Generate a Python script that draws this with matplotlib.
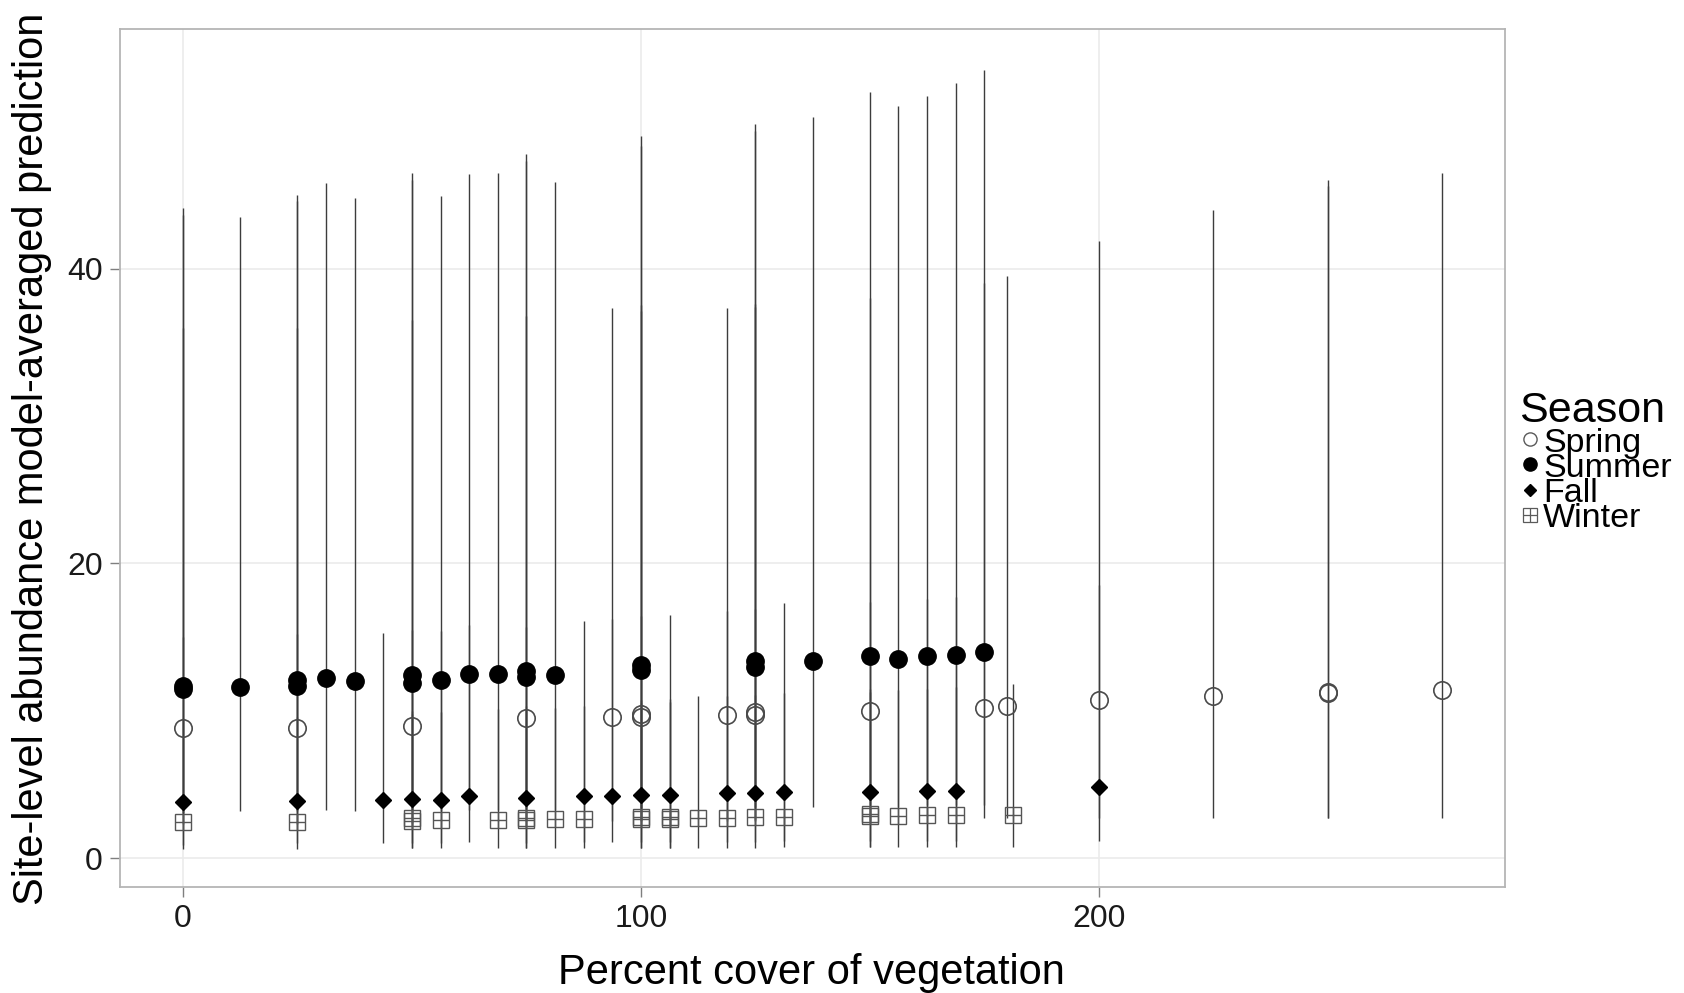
import matplotlib
matplotlib.use("Agg")
import matplotlib.pyplot as plt
from matplotlib.lines import Line2D

plt.rcParams["font.family"] = ["Liberation Sans", "DejaVu Sans"]

# ---- model-averaged predictions per site (x = percent cover) ---- #
spring_x = [0, 25, 50, 75, 93.75, 100, 100, 118.75, 125, 125, 150, 175, 180, 200, 225, 250, 250, 275]
spring_y = [8.85, 8.85, 9.0, 9.5, 9.6, 9.6, 9.8, 9.7, 9.7, 9.9, 10.0, 10.2, 10.3, 10.7, 11.0, 11.2, 11.25, 11.4]
spring_lo = [2.3, 2.3, 2.4, 2.5, 2.5, 2.5, 2.6, 2.5, 2.5, 2.6, 2.6, 2.7, 2.7, 2.7, 2.7, 2.7, 2.7, 2.7]
spring_hi = [36.0, 36.0, 36.5, 36.8, 37.3, 37.1, 37.5, 37.3, 37.4, 37.6, 38.0, 39.0, 39.5, 41.9, 44.0, 46.0, 45.6, 46.5]

summer_x = [0, 0, 12.5, 25, 25, 31.25, 37.5, 50, 50, 56.25, 62.5, 68.75, 75, 75, 81.25,
            100, 100, 125, 125, 137.5, 150, 156.25, 162.5, 168.75, 175]
summer_y = [11.5, 11.7, 11.6, 11.7, 12.1, 12.2, 12.0, 11.9, 12.4, 12.1, 12.5, 12.5, 12.3, 12.7, 12.4,
            12.8, 13.1, 13.0, 13.4, 13.4, 13.7, 13.5, 13.7, 13.8, 14.0]
summer_lo = [3.1, 3.1, 3.2, 3.2, 3.3, 3.3, 3.2, 3.2, 3.3, 3.2, 3.3, 3.3, 3.3, 3.4, 3.3,
             3.4, 3.4, 3.4, 3.5, 3.5, 3.6, 3.5, 3.6, 3.6, 3.6]
summer_hi = [44.1, 43.6, 43.5, 45.0, 44.6, 45.8, 44.8, 46.5, 46.0, 44.9, 46.4, 46.5, 47.8, 47.3, 45.9,
             49.0, 48.3, 49.8, 49.3, 50.3, 52.0, 51.0, 51.7, 52.6, 53.5]

fall_x = [0, 25, 43.75, 50, 56.25, 62.5, 75, 87.5, 93.75, 100, 106.25, 118.75, 125, 131.25, 150, 162.5, 168.75, 200]
fall_y = [3.8, 3.9, 3.95, 4.0, 3.95, 4.2, 4.1, 4.2, 4.2, 4.3, 4.3, 4.4, 4.4, 4.47, 4.47, 4.56, 4.56, 4.8]
fall_lo = [0.9, 1.0, 1.0, 1.0, 1.0, 1.1, 1.0, 1.1, 1.1, 1.1, 1.1, 1.1, 1.1, 1.2, 1.2, 1.2, 1.2, 1.2]
fall_hi = [15.0, 15.2, 15.3, 15.5, 15.4, 15.8, 15.7, 16.1, 16.2, 16.4, 16.5, 16.8, 16.9, 17.3, 17.4, 17.6, 17.7, 18.5]

winter_x = [0, 25, 50, 50, 56.25, 68.75, 75, 75, 81.25, 87.5, 100, 100, 106.25, 106.25,
            112.5, 118.75, 125, 131.25, 150, 150, 156.25, 162.5, 168.75, 181.25]
winter_y = [2.44, 2.44, 2.55, 2.7, 2.6, 2.6, 2.6, 2.75, 2.66, 2.66, 2.65, 2.8, 2.65, 2.8,
            2.75, 2.75, 2.8, 2.8, 2.85, 3.0, 2.87, 2.93, 2.93, 2.93]
winter_lo = [0.65, 0.65, 0.66, 0.68, 0.68, 0.68, 0.68, 0.7, 0.7, 0.7, 0.7, 0.72, 0.7, 0.72,
             0.72, 0.72, 0.72, 0.74, 0.74, 0.76, 0.75, 0.76, 0.76, 0.78]
winter_hi = [9.5, 9.6, 9.8, 10.0, 9.9, 10.1, 10.1, 10.3, 10.2, 10.3, 10.5, 10.7, 10.6, 10.8,
             11.0, 11.0, 11.1, 11.2, 11.3, 11.5, 11.4, 11.5, 11.6, 11.8]

seasons = ["Spring", "Summer", "Fall", "Winter"]
x_ticks = [0, 100, 200]
y_ticks = [0, 20, 40]

fig = plt.figure(figsize=(16.84, 9.93), dpi=100)
ax = fig.add_axes([0.0713, 0.1068, 0.8225, 0.8640])

# grid + frame like theme_bw
for t in x_ticks:
    ax.axvline(t, color="#ebebeb", lw=1.2, zorder=0)
for t in y_ticks:
    ax.axhline(t, color="#ebebeb", lw=1.2, zorder=0)
for s in ax.spines.values():
    s.set_color("#b5b5b5")
    s.set_linewidth(1.3)

# error bars
bar_kw = dict(colors="#3c3c3c", linewidth=1.0, zorder=2)
ax.vlines(spring_x, spring_lo, spring_hi, **bar_kw)
ax.vlines(summer_x, summer_lo, summer_hi, **bar_kw)
ax.vlines(fall_x, fall_lo, fall_hi, **bar_kw)
ax.vlines(winter_x, winter_lo, winter_hi, **bar_kw)

# points
ax.plot(spring_x, spring_y, "o", ms=12.5, mfc="none", mec="#4a4a4a", mew=1.2, zorder=3)
ax.plot(summer_x, summer_y, "o", ms=12.5, color="black", zorder=3)
ax.plot(fall_x, fall_y, "D", ms=8, color="black", zorder=3)
ax.plot(winter_x, winter_y, "s", ms=12, mfc="none", mec="#555555", mew=1.0, zorder=3)
ax.plot(winter_x, winter_y, "+", ms=12, color="#555555", mew=1.0, zorder=3)

ax.set_xlim(-13.75, 288.75)
ax.set_ylim(-1.95, 56.25)
ax.set_xticks(x_ticks)
ax.set_yticks(y_ticks)
ax.tick_params(length=7.5, width=1, color="#7f7f7f", labelsize=23, labelcolor="#1a1a1a", pad=5)

ax.set_xlabel("Percent cover of vegetation", fontsize=30)
ax.set_ylabel("Site-level abundance model-averaged prediction", fontsize=30)
ax.xaxis.set_label_coords(0.499, -0.077)
ax.yaxis.set_label_coords(-0.049, 0.499)

# legend, drawn by hand so the rows sit tight like the original
W, H = 1684.0, 993.0
fig.text(1519 / W, 1 - 422 / H, "Season", fontsize=31, va="baseline", ha="left")
mk_x = 1530 / W
rows = [439, 464, 490, 515]
base = [452, 477, 502, 527]
styles = [
    dict(marker="o", ms=9.5, mfc="none", mec="#5a5a5a", mew=1.0),
    dict(marker="o", ms=9.5, color="black"),
    dict(marker="D", ms=6.5, color="black"),
    dict(marker="s", ms=10, mfc="none", mec="#5a5a5a", mew=0.9),
]
for name, ry, by, st in zip(seasons, rows, base, styles):
    fig.add_artist(Line2D([mk_x], [1 - ry / H], linestyle="none", transform=fig.transFigure, **st))
    if name == "Winter":
        fig.add_artist(Line2D([mk_x], [1 - ry / H], linestyle="none", marker="+", ms=10,
                              color="#5a5a5a", mew=0.9, transform=fig.transFigure))
    fig.text(1543 / W, 1 - by / H, name, fontsize=24.5, va="baseline", ha="left")

fig.savefig("out.png", dpi=100)
